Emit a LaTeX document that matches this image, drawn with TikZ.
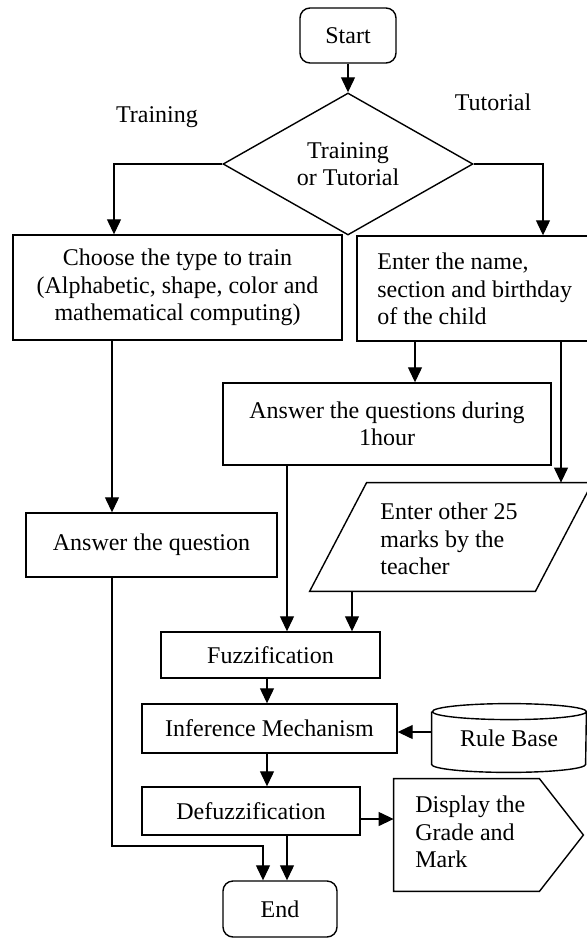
\documentclass[tikz,border=0pt]{standalone}
\usepackage{fontspec}
\setmainfont{Liberation Serif}
\usetikzlibrary{arrows.meta,shapes.geometric,calc}
\begin{document}
\begin{tikzpicture}[x=0.5pt,y=-0.5pt,
  font=\fontsize{12pt}{13.75pt}\selectfont,
  box/.style={draw,line width=0.7pt,rectangle,inner sep=0pt,align=center},
  term/.style={box,rounded corners=5pt},
  ghost/.style={rectangle,inner sep=0pt},
  shp/.style={line width=0.7pt,line join=miter},
  arr/.style={line width=0.6pt,-{Triangle[length=7.5pt,width=7pt]}},
  txt/.style={inner sep=0pt,align=left,anchor=west},
  lbl/.style={inner sep=0pt}
]
\useasboundingbox (0,0) rectangle (587,938);

% lanes for connectors
\coordinate (L1) at (114,0);
\coordinate (L2) at (543,0);
\coordinate (L3) at (112,0);
\coordinate (L4) at (415,0);
\coordinate (L5) at (561,0);
\coordinate (L6) at (287,0);
\coordinate (L7) at (352,0);
\coordinate (L8) at (267,0);
\coordinate (L9) at (263,846);
\coordinate (LR) at (0,732);
\coordinate (LD) at (0,819);

% nodes
\node[term,minimum width=48pt,minimum height=27.5pt] (start) at (348,35.5) {Start};
\node[draw,diamond,line width=0.7pt,minimum width=125pt,minimum height=71pt,
      inner sep=0pt,aspect=1.76,align=center] (dia) at (348,164) {Training\\or Tutorial};
\node[lbl] (lt) at (157,117) {Training};
\node[lbl] (lu) at (493,102) {Tutorial};

\node[box,minimum width=164.5pt,minimum height=52.5pt] (choose) at (177.5,287.5)
  {Choose the type to train\\(Alphabetic, shape, color and\\mathematical computing)};
\node[box,minimum width=116pt,minimum height=52.5pt] (enter) at (473,288.5) {};
\node[txt] (enterT) at (377,289) {Enter the name,\\section and birthday\\of the child};

\node[box,minimum width=164pt,minimum height=41pt] (ansq) at (387,424)
  {Answer the questions during\\1hour};

\node[ghost,minimum width=141pt,minimum height=54pt] (par) at (451,537) {};
\draw[shp] ([xshift=28.5pt]par.north west) -- (par.north east)
  -- ([xshift=-28.5pt]par.south east) -- (par.south west) -- cycle;
\node[txt] (parT) at (380,539) {Enter other 25\\marks by the\\teacher};

\node[box,minimum width=125.5pt,minimum height=32pt] (ans) at (151.5,545)
  {Answer the question};

\node[box,minimum width=109.5pt,minimum height=23pt] (fuzz) at (270.5,655) {Fuzzification};
\node[box,minimum width=127.5pt,minimum height=24.5pt] (inf) at (269.5,728.5) {Inference Mechanism};

\node[ghost,minimum width=77pt,minimum height=34pt] (rule) at (509,738) {Rule Base};
\draw[shp] ([yshift=-4pt]rule.north west) -- ([yshift=4pt]rule.south west)
  arc[start angle=180,end angle=360,x radius=38.5pt,y radius=4pt]
  -- ([yshift=-4pt]rule.north east)
  arc[start angle=0,end angle=360,x radius=38.5pt,y radius=4pt];

\node[box,minimum width=109pt,minimum height=24pt] (defuzz) at (251,811) {Defuzzification};

\node[ghost,minimum width=94.5pt,minimum height=56pt] (disp) at (488.5,835) {};
\draw[shp] (disp.north west) -- ([xshift=-22pt]disp.north east) -- (disp.east)
  -- ([xshift=-22pt]disp.south east) -- (disp.south west) -- cycle;
\node[txt,text depth=0pt] (dispT) at (415,832) {\baselineskip=14pt Display the\\Grade and\\Mark};

\node[term,minimum width=57pt,minimum height=28pt] (end) at (280,909) {End};

% connectors
\draw[arr] (start.south) -- (dia.north);
\draw[arr] (dia.west) -| (L1 |- choose.north);
\draw[arr] (dia.east) -| (L2 |- enter.north);
\draw[arr] (choose.south -| L3) -- (ans.north -| L3);
\draw[arr] (enter.south -| L4) -- (ansq.north -| L4);
\draw[arr] (enter.south -| L5) -- (par.north -| L5);
\draw[arr] (ansq.south -| L6) -- (fuzz.north -| L6);
\draw[arr] (par.south -| L7) -- (fuzz.north -| L7);
\draw[arr] (fuzz.south -| L8) -- (inf.north -| L8);
\draw[arr] (rule.west |- LR) -- (inf.east |- LR);
\draw[arr] (inf.south -| L8) -- (defuzz.north -| L8);
\draw[arr] (defuzz.east |- LD) -- (disp.west |- LD);
\draw[arr] (defuzz.south -| L6) -- (end.north -| L6);
\draw[arr] (ans.south -| L3) |- (L9) -- (end.north -| L9);
\end{tikzpicture}
\end{document}
